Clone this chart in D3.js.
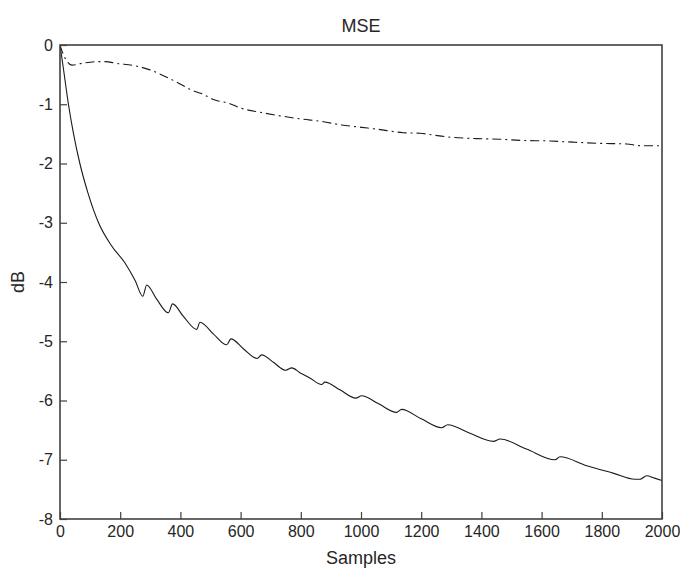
<!DOCTYPE html>
<html>
<head>
<meta charset="utf-8">
<script src="https://cdn.jsdelivr.net/npm/d3@7"></script>
<style>
  html, body { margin: 0; padding: 0; background: #fff; }
  svg { display: block; font-family: "Liberation Sans", Arial, Helvetica, sans-serif; }
</style>
</head>
<body>
<svg id="chart" width="680" height="570"></svg>
<script>
// ---- data ----
const solidSamples = [0,10,28,45,66,93,128,170,216,250,275,288,320,360,374,410,454,465,510,554,568,610,655,670,710,750,770,797,830,869,880,930,983,1002,1060,1118,1135,1200,1268,1288,1360,1440,1462,1550,1645,1661,1750,1840,1910,1927,1949,1975,2000];
const solidDB      = [0,-0.35,-1.0,-1.5,-2.0,-2.5,-3.0,-3.38,-3.68,-3.98,-4.24,-4.05,-4.28,-4.52,-4.37,-4.58,-4.80,-4.68,-4.88,-5.06,-4.96,-5.13,-5.29,-5.23,-5.36,-5.49,-5.45,-5.53,-5.62,-5.73,-5.69,-5.82,-5.96,-5.92,-6.06,-6.20,-6.15,-6.31,-6.46,-6.41,-6.55,-6.69,-6.65,-6.82,-7.00,-6.95,-7.10,-7.23,-7.33,-7.33,-7.27,-7.31,-7.35];

const dashSamples = [0,8,20,39,72,127,150,188,249,299,349,393,437,470,515,559,604,670,737,803,869,936,1002,1052,1141,1196,1240,1285,1384,1462,1528,1628,1705,1794,1883,1927,2000];
const dashDB      = [0,-0.12,-0.25,-0.34,-0.31,-0.28,-0.28,-0.31,-0.35,-0.42,-0.53,-0.64,-0.76,-0.82,-0.93,-0.98,-1.07,-1.14,-1.20,-1.25,-1.29,-1.35,-1.39,-1.42,-1.48,-1.49,-1.52,-1.55,-1.58,-1.59,-1.61,-1.62,-1.64,-1.66,-1.67,-1.70,-1.70];

const xTicks = [0,200,400,600,800,1000,1200,1400,1600,1800,2000];
const yTicks = [0,-1,-2,-3,-4,-5,-6,-7,-8];
const titleText = "MSE";
const xLabel = "Samples";
const yLabel = "dB";

// ---- layout ----
const L = 60, R = 662, T = 45, B = 519;
const svg = d3.select("#chart");

const x = d3.scaleLinear().domain([0, 2000]).range([L, R]);
const y = d3.scaleLinear().domain([-8, 0]).range([B, T]);

const axisColor = "#404040";
const textColor = "#262626";

// clip
svg.append("defs").append("clipPath").attr("id", "clip")
  .append("rect").attr("x", L).attr("y", T).attr("width", R - L).attr("height", B - T);

// axes
const gx = svg.append("g").attr("transform", `translate(0,${B})`)
  .call(d3.axisBottom(x).tickValues(xTicks).tickFormat(d3.format("d"))
        .tickSizeInner(-7).tickSizeOuter(0).tickPadding(7));
const gy = svg.append("g").attr("transform", `translate(${L},0)`)
  .call(d3.axisLeft(y).tickValues(yTicks).tickFormat(d => d === 0 ? "0" : "-" + Math.abs(d))
        .tickSizeInner(-7).tickSizeOuter(0).tickPadding(7));

[gx, gy].forEach(g => {
  g.select(".domain").remove();
  g.selectAll(".tick line").attr("stroke", axisColor).attr("stroke-width", 1.2);
  g.selectAll(".tick text").attr("fill", textColor).style("font-size", "16px");
});

// lines
const lineGen = d3.line().x(d => x(d[0])).y(d => y(d[1])).curve(d3.curveMonotoneX);
const solidData = solidSamples.map((s, i) => [s, solidDB[i]]);
const dashData = dashSamples.map((s, i) => [s, dashDB[i]]);

const plot = svg.append("g").attr("clip-path", "url(#clip)");
plot.append("path").datum(dashData)
  .attr("d", lineGen).attr("fill", "none")
  .attr("stroke", "#1a1a1a").attr("stroke-width", 1.1)
  .attr("stroke-dasharray", "9,4,2,4");
plot.append("path").datum(solidData)
  .attr("d", lineGen).attr("fill", "none")
  .attr("stroke", "#1a1a1a").attr("stroke-width", 1.1);

// frame
svg.append("rect").attr("x", L).attr("y", T).attr("width", R - L).attr("height", B - T)
  .attr("fill", "none").attr("stroke", axisColor).attr("stroke-width", 1.6);

// labels
svg.append("text").attr("x", (L + R) / 2).attr("y", 32)
  .attr("text-anchor", "middle").attr("fill", textColor).style("font-size", "18px").text(titleText);
svg.append("text").attr("x", (L + R) / 2).attr("y", 564)
  .attr("text-anchor", "middle").attr("fill", textColor).style("font-size", "18px").text(xLabel);
svg.append("text").attr("transform", `translate(24,${(T + B) / 2}) rotate(-90)`)
  .attr("text-anchor", "middle").attr("fill", textColor).style("font-size", "18px").text(yLabel);
</script>
</body>
</html>
